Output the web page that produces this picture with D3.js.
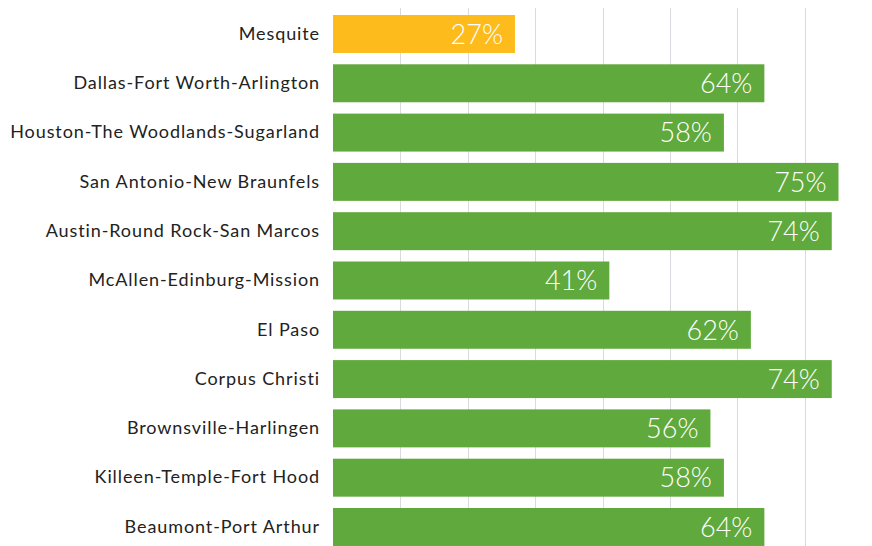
<!DOCTYPE html>
<html>
<head>
<meta charset="utf-8">
<script src="https://cdn.jsdelivr.net/npm/d3@7"></script>
<style>
  html, body { margin: 0; padding: 0; background: #ffffff; }
  svg { display: block; }
</style>
</head>
<body>
<svg id="chart" width="872" height="546"></svg>
<script>
// Share of residents by metro area (percent)
const categories = [
  "Mesquite",
  "Dallas-Fort Worth-Arlington",
  "Houston-The Woodlands-Sugarland",
  "San Antonio-New Braunfels",
  "Austin-Round Rock-San Marcos",
  "McAllen-Edinburg-Mission",
  "El Paso",
  "Corpus Christi",
  "Brownsville-Harlingen",
  "Killeen-Temple-Fort Hood",
  "Beaumont-Port Arthur"
];
const values = [27, 64, 58, 75, 74, 41, 62, 74, 56, 58, 64];
const highlighted = ["Mesquite"];
const gridTicks = [10, 20, 30, 40, 50, 60, 70];

const width = 872, height = 546;
const margin = { top: 15, left: 333 };
const step = 49.3;
const innerPad = 0.23;

const svg = d3.select("#chart");

const x = d3.scaleLinear()
  .domain([0, 80])
  .range([margin.left, margin.left + 80 * 6.74]);

const y = d3.scaleBand()
  .domain(categories)
  .range([margin.top, margin.top + step * (categories.length - innerPad)])
  .paddingInner(innerPad)
  .paddingOuter(0);

// vertical gridlines
svg.append("g")
  .selectAll("line")
  .data(gridTicks)
  .join("line")
  .attr("x1", d => Math.round(x(d)) + 0.5)
  .attr("x2", d => Math.round(x(d)) + 0.5)
  .attr("y1", 8)
  .attr("y2", height)
  .attr("stroke", "#d9d9e0")
  .attr("stroke-width", 1);

// bars
svg.append("g")
  .selectAll("rect")
  .data(categories)
  .join("rect")
  .attr("x", x(0))
  .attr("y", d => y(d))
  .attr("width", (d, i) => x(values[i]) - x(0))
  .attr("height", y.bandwidth())
  .attr("fill", d => highlighted.includes(d) ? "#fdbb1c" : "#60a93c");

// value labels inside bar ends
svg.append("g")
  .selectAll("text")
  .data(categories)
  .join("text")
  .attr("x", (d, i) => x(values[i]) - 12)
  .attr("y", d => y(d) + y.bandwidth() / 2)
  .attr("dy", "0.36em")
  .attr("text-anchor", "end")
  .attr("fill", "#ffffff")
  .style("font-family", "Lato, 'Open Sans', sans-serif")
  .style("font-weight", 300)
  .style("font-size", "27px")
  .text((d, i) => values[i] + "%");

// category labels
const yAxis = d3.axisLeft(y).tickSize(0).tickPadding(13);
const axisG = svg.append("g")
  .attr("transform", `translate(${margin.left},0)`)
  .call(yAxis);
axisG.select(".domain").remove();
axisG.selectAll("text")
  .attr("fill", "#222222")
  .style("font-family", "Lato, 'Open Sans', sans-serif")
  .style("font-size", "18px")
  .style("letter-spacing", "0.9px");
</script>
</body>
</html>
